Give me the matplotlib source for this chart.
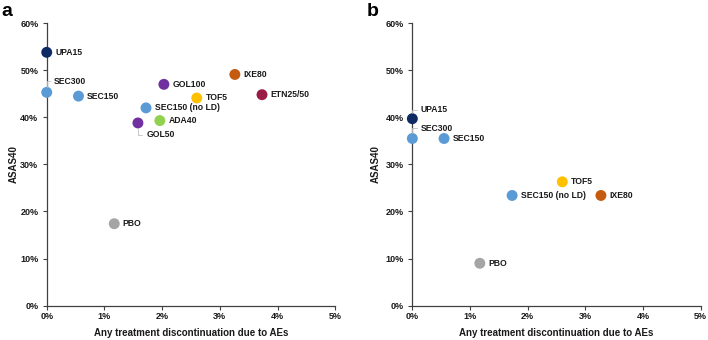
import matplotlib
matplotlib.use("Agg")
import matplotlib.pyplot as plt
from matplotlib.ticker import FuncFormatter

plt.rcParams['font.family'] = ['Liberation Sans', 'DejaVu Sans']
plt.rcParams['font.weight'] = 'bold'

# Panel a data
a_labels = ["UPA15", "SEC300", "SEC150", "GOL100", "IXE80", "ETN25/50", "TOF5",
            "SEC150 (no LD)", "ADA40", "GOL50", "PBO"]
a_x = [0.0, 0.0, 0.55, 2.03, 3.26, 3.73, 2.60, 1.72, 1.96, 1.58, 1.17]
a_y = [53.8, 45.3, 44.5, 47.0, 49.1, 44.8, 44.1, 42.0, 39.3, 38.8, 17.4]

# Panel b data
b_labels = ["UPA15", "SEC300", "SEC150", "TOF5", "SEC150 (no LD)", "IXE80", "PBO"]
b_x = [0.0, 0.0, 0.55, 2.60, 1.73, 3.27, 1.17]
b_y = [39.7, 35.5, 35.5, 26.3, 23.4, 23.4, 9.0]

colors = {
    "UPA15": "#0e2a62",
    "SEC300": "#5b9bd5",
    "SEC150": "#5b9bd5",
    "SEC150 (no LD)": "#5b9bd5",
    "GOL100": "#7030a0",
    "GOL50": "#7030a0",
    "IXE80": "#c55a11",
    "ETN25/50": "#9b1b47",
    "TOF5": "#ffc000",
    "ADA40": "#92d050",
    "PBO": "#a5a5a5",
}

# label offsets in points (dx, dy) for labels with a leader line
a_offsets = {"SEC300": (5, 8), "GOL50": (6, -8.5)}
b_offsets = {"UPA15": (6, 6.5), "SEC300": (6, 7.5)}

fig = plt.figure(figsize=(7.08, 3.40), dpi=100)
ax_a = fig.add_axes([0.066, 0.101, 0.4076, 0.831])
ax_b = fig.add_axes([0.5824, 0.101, 0.4073, 0.831])

txt_color = "#1a1a1a"
lab_fs = 6.2

def draw(ax, labels, xs, ys, offsets, ylab_x):
    for lab, x, y in zip(labels, xs, ys):
        ax.scatter([x], [y], s=62, color=colors[lab], zorder=3, clip_on=False,
                   edgecolors='none')
        if lab in offsets:
            dx, dy = offsets[lab]
            ax.annotate(lab, xy=(x, y), xytext=(dx, dy), textcoords='offset points',
                        fontsize=lab_fs, fontweight='bold', color=txt_color,
                        ha='left', va='center',
                        arrowprops=dict(arrowstyle='-', color='#bfbfbf', lw=0.6,
                                        shrinkA=1, shrinkB=4,
                                        connectionstyle="angle,angleA=180,angleB=90,rad=0"))
        else:
            ax.annotate(lab, xy=(x, y), xytext=(6.2, 0), textcoords='offset points',
                        fontsize=lab_fs, fontweight='bold', color=txt_color,
                        ha='left', va='center')
    ax.set_xlim(0, 5)
    ax.set_ylim(0, 60)
    ax.set_xticks([0, 1, 2, 3, 4, 5])
    ax.set_yticks([0, 10, 20, 30, 40, 50, 60])
    ax.xaxis.set_major_formatter(FuncFormatter(lambda v, p: f"{int(round(v))}%"))
    ax.yaxis.set_major_formatter(FuncFormatter(lambda v, p: f"{int(round(v))}%"))
    for s in ['top', 'right']:
        ax.spines[s].set_visible(False)
    for s in ['left', 'bottom']:
        ax.spines[s].set_color('#404040')
        ax.spines[s].set_linewidth(0.9)
    ax.tick_params(axis='both', labelsize=6.5, colors='#404040', labelcolor=txt_color,
                   length=3, width=0.8, direction='out')
    ax.tick_params(axis='x', pad=1.5)
    ax.tick_params(axis='y', pad=3)
    for t in ax.get_xticklabels() + ax.get_yticklabels():
        t.set_fontweight('bold')
    ax.set_xlabel("Any treatment discontinuation due to AEs", fontsize=7,
                  fontweight='bold', color=txt_color)
    ax.set_ylabel("ASAS40", fontsize=7, fontweight='bold', color=txt_color)
    ax.xaxis.set_label_coords(0.5, -0.080)
    ax.yaxis.set_label_coords(ylab_x, 0.5)

draw(ax_a, a_labels, a_x, a_y, a_offsets, -0.098)
draw(ax_b, b_labels, b_x, b_y, b_offsets, -0.108)

fig.text(0.002, 0.952, "a", fontsize=14, fontweight='bold', color='black',
         ha='left', va='baseline')
fig.text(0.518, 0.952, "b", fontsize=14, fontweight='bold', color='black',
         ha='left', va='baseline')

fig.savefig("out.png", dpi=100, facecolor='white')
